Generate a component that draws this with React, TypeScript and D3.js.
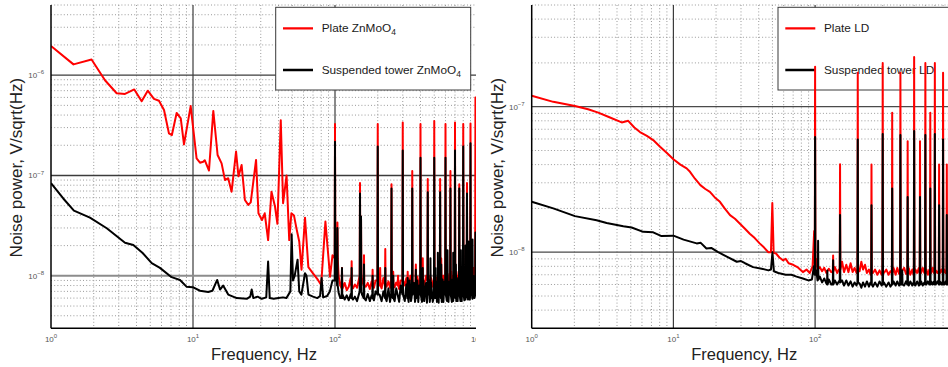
import React from 'react';
import * as d3 from 'd3';

type P = [number, number];
type L = [number, number, number]; // [frequency, peak value, base value]

// ---------- Left panel: ZnMoO4 ----------
const plateZnLow: P[] = [
  [1.0, 1.95e-6], [1.44, 1.28e-6], [1.93, 1.43e-6], [2.4, 8.9e-7], [2.9, 6.6e-7], [3.32, 6.5e-7],
  [3.86, 7.2e-7], [4.35, 5.5e-7], [4.8, 7.0e-7], [5.31, 5.8e-7], [5.76, 5.55e-7], [6.25, 4.5e-7],
  [6.77, 2.63e-7], [7.1, 2.53e-7], [7.67, 4.2e-7], [8.2, 3.7e-7], [8.64, 2.04e-7], [9.63, 4.92e-7],
  [10.6, 1.48e-7], [11.2, 1.34e-7], [11.8, 1.37e-7], [12.1, 1.42e-7], [12.96, 1.12e-7], [13.9, 4.4e-7],
  [14.9, 1.6e-7], [15.9, 1.32e-7], [16.8, 9.0e-8], [17.7, 9.4e-8], [18.7, 6.9e-8], [20.1, 1.73e-7],
  [20.9, 9.8e-8], [22.0, 1.27e-7], [23.2, 5.7e-8], [24.5, 5.1e-8], [25.5, 5.4e-8], [27.8, 1.43e-7],
  [28.9, 4.2e-8], [30.6, 3.6e-8], [32.0, 4.2e-8], [33.8, 2.27e-8], [35.7, 6.9e-8], [37.8, 4.9e-8],
  [39.3, 3.3e-8], [41.5, 3.56e-7], [43.1, 5.3e-8], [45.6, 1.0e-7], [47.6, 2.27e-8], [49.3, 4.2e-8],
  [51.4, 4.0e-8], [53.7, 2.9e-8], [56.0, 2.2e-8], [58.1, 1.15e-8], [61.5, 3.8e-8], [64.9, 1.22e-8],
  [70.0, 1.06e-8], [75.9, 9.1e-9], [79.9, 8.1e-9], [85.6, 3.47e-8], [92.3, 9.8e-9], [96.0, 1.6e-8],
  [103, 1.6e-8], [106, 1.0e-8], [109, 8.0e-9], [113, 7.5e-9], [117, 8.5e-9], [121, 7.2e-9], [125, 7.8e-9],
  [129, 9.5e-9], [134, 7.5e-9], [138, 8.2e-9], [143, 7.6e-9], [155, 9.0e-9], [165, 7.8e-9], [170, 8.5e-9],
  [176, 7.4e-9], [181, 8.8e-9], [188, 7.6e-9], [193, 9.0e-9], [206, 8.4e-9], [213, 7.5e-9], [219, 9.5e-9],
  [231, 7.8e-9], [238, 8.8e-9], [244, 7.6e-9], [256, 9.6e-9], [263, 7.7e-9], [270, 8.6e-9], [283, 7.4e-9],
  [290, 9.0e-9], [310, 8.0e-9], [318, 9.5e-9], [330, 7.6e-9], [340, 1.0e-8], [360, 8.0e-9], [380, 9.8e-9],
  [392, 7.8e-9], [410, 9.0e-9], [425, 8.0e-9], [438, 1.0e-8], [460, 8.2e-9], [475, 9.5e-9], [488, 7.8e-9],
  [515, 9.6e-9], [530, 8.0e-9], [542, 1.05e-8], [565, 8.2e-9], [580, 1.0e-8], [590, 8.0e-9], [615, 9.6e-9],
  [630, 8.4e-9], [640, 1.05e-8], [665, 8.2e-9], [680, 1.0e-8], [690, 8.5e-9], [715, 1.0e-8], [730, 8.6e-9],
  [742, 1.1e-8], [765, 8.4e-9], [780, 1.0e-8], [790, 8.6e-9], [815, 1.05e-8], [830, 8.8e-9], [842, 1.1e-8],
  [865, 9.0e-9], [875, 1.1e-8], [890, 9.0e-9], [915, 1.1e-8], [930, 9.0e-9], [942, 1.2e-8], [965, 1.2e-8],
];
const plateZnLines: L[] = [
  [100, 3.25e-7, 1.5e-8], [104, 3.4e-8, 1.5e-8], [112, 1.2e-8, 7.5e-9], [131, 1.4e-8, 8e-9],
  [150, 8.4e-8, 1.0e-8], [152.5, 3.9e-8, 1.0e-8], [160, 1.6e-8, 8e-9], [184, 1.15e-8, 8e-9],
  [200, 3.25e-7, 9e-9], [208, 1.2e-8, 8e-9], [226, 1.85e-8, 8e-9], [250, 8.2e-8, 9e-9],
  [257, 1.1e-8, 8e-9], [278, 1.0e-8, 8e-9], [300, 3.38e-7, 9e-9], [325, 1.1e-8, 8e-9],
  [350, 1.11e-7, 9e-9], [371, 1.3e-8, 8.5e-9], [400, 3.25e-7, 9e-9], [415, 1.5e-8, 8.5e-9],
  [450, 9.2e-8, 9e-9], [468, 1.0e-8, 8.5e-9], [500, 3.5e-7, 9e-9], [550, 9.2e-8, 9e-9],
  [560, 1.5e-8, 9e-9], [600, 3.25e-7, 9e-9], [610, 1.3e-8, 9e-9], [650, 1.11e-7, 9e-9],
  [660, 1.1e-8, 9e-9], [700, 3.38e-7, 9e-9], [750, 8.2e-8, 9e-9], [755, 1.5e-8, 9e-9],
  [800, 3.25e-7, 9e-9], [850, 8.4e-8, 9e-9], [880, 1.5e-8, 9e-9], [900, 3.3e-7, 9e-9],
  [975, 6.0e-7, 1.0e-8],
];

const towerZnLow: P[] = [
  [1.0, 8.4e-8], [1.22, 5.9e-8], [1.45, 4.47e-8], [1.88, 3.8e-8], [2.47, 2.98e-8], [3.32, 2.14e-8],
  [3.8, 2.03e-8], [4.4, 1.7e-8], [5.12, 1.34e-8], [5.85, 1.2e-8], [7.07, 9.7e-9], [8.1, 9.1e-9],
  [9.0, 7.8e-9], [9.96, 7.7e-9], [11.2, 7.1e-9], [12.8, 6.9e-9], [13.7, 7.1e-9], [14.8, 9.1e-9],
  [15.5, 7.3e-9], [16.3, 8.0e-9], [17.7, 6.5e-9], [20.3, 6.0e-9], [23.9, 5.9e-9], [25.3, 6.2e-9],
  [25.9, 7.3e-9], [26.6, 6.0e-9], [28.5, 6.2e-9], [30.5, 5.9e-9], [32.8, 6.1e-9], [33.8, 1.39e-8],
  [34.7, 6.0e-9], [37.0, 5.9e-9], [40.0, 6.0e-9], [43.0, 6.1e-9], [45.5, 6.0e-9], [48.5, 7.0e-9],
  [49.5, 2.6e-8], [50.6, 9.0e-9], [52.0, 1.0e-8], [54.5, 1.45e-8], [56.0, 7.0e-9], [58.0, 6.5e-9],
  [61.5, 1.06e-8], [63.0, 1.0e-8], [65.0, 6.5e-9], [70.0, 6.2e-9], [75.0, 6.0e-9], [78.5, 6.3e-9],
  [80.5, 9.5e-9], [82.5, 6.1e-9], [88.0, 6.3e-9], [92.0, 7.0e-9], [96.0, 9.0e-9],
  [103, 9.0e-9], [106, 6.8e-9], [109, 6.0e-9], [113, 6.5e-9], [117, 5.8e-9], [121, 6.4e-9], [125, 5.7e-9],
  [129, 6.6e-9], [134, 5.8e-9], [138, 6.2e-9], [143, 5.6e-9], [155, 6.5e-9], [165, 5.7e-9], [170, 6.6e-9],
  [176, 5.6e-9], [181, 6.4e-9], [188, 5.7e-9], [193, 7.0e-9], [206, 6.5e-9], [213, 5.6e-9], [219, 7.0e-9],
  [231, 5.6e-9], [238, 7.5e-9], [244, 5.5e-9], [256, 7.8e-9], [263, 5.6e-9], [270, 7.5e-9], [283, 5.5e-9],
  [290, 8.0e-9], [310, 5.6e-9], [318, 8.2e-9], [330, 5.5e-9], [336, 9.0e-9], [343, 5.6e-9], [360, 8.5e-9],
  [366, 5.5e-9], [380, 9.0e-9], [386, 5.5e-9], [392, 8.0e-9], [410, 5.5e-9], [420, 9.0e-9], [425, 5.6e-9],
  [438, 8.5e-9], [444, 5.4e-9], [460, 9.0e-9], [465, 5.5e-9], [475, 8.6e-9], [488, 5.5e-9], [515, 8.8e-9],
  [522, 5.5e-9], [530, 9.0e-9], [537, 5.4e-9], [542, 8.6e-9], [565, 5.5e-9], [572, 9.2e-9], [580, 5.5e-9],
  [590, 8.8e-9], [615, 5.6e-9], [622, 9.0e-9], [630, 5.5e-9], [640, 8.8e-9], [665, 5.5e-9], [672, 9.2e-9],
  [680, 5.6e-9], [690, 9.0e-9], [715, 5.6e-9], [722, 9.5e-9], [730, 5.6e-9], [742, 9.0e-9], [765, 5.6e-9],
  [772, 9.5e-9], [780, 5.6e-9], [790, 9.0e-9], [815, 5.7e-9], [822, 1.0e-8], [830, 5.8e-9], [842, 9.5e-9],
  [865, 5.8e-9], [872, 1.0e-8], [890, 5.8e-9], [915, 1.0e-8], [930, 5.9e-9], [942, 1.0e-8], [960, 6.0e-9],
  [990, 1.0e-8], [1000, 6.0e-9],
];
const towerZnLines: L[] = [
  [100, 2.17e-7, 9e-9], [104, 3.0e-8, 8e-9], [112, 1.2e-8, 6e-9], [131, 1.2e-8, 6e-9],
  [150, 6.6e-8, 7e-9], [152.5, 3.9e-8, 7e-9], [160, 1.3e-8, 6e-9], [184, 1.0e-8, 6e-9],
  [200, 1.94e-7, 6.5e-9], [226, 1.2e-8, 6e-9], [250, 7.4e-8, 6.5e-9], [257, 1.0e-8, 6e-9],
  [300, 1.77e-7, 6.5e-9], [325, 9.5e-9, 6e-9], [350, 7.4e-8, 6.5e-9], [371, 1.15e-8, 6e-9],
  [400, 1.5e-7, 6.5e-9], [415, 1.2e-8, 6e-9], [450, 6.8e-8, 6.5e-9], [470, 1.5e-8, 6e-9],
  [500, 1.5e-7, 6.5e-9], [510, 1.2e-8, 6e-9], [530, 1.7e-8, 6e-9], [550, 6.8e-8, 6.5e-9],
  [560, 1.3e-8, 6e-9], [600, 1.5e-7, 6.5e-9], [620, 1.8e-8, 6e-9], [650, 7.4e-8, 6.5e-9],
  [680, 1.7e-8, 6e-9], [700, 1.77e-7, 6.5e-9], [710, 1.3e-8, 6e-9], [750, 7.4e-8, 6.5e-9],
  [770, 1.8e-8, 6e-9], [800, 1.94e-7, 6.5e-9], [830, 2.0e-8, 6e-9], [850, 6.6e-8, 6.5e-9],
  [870, 2.2e-8, 6e-9], [900, 2.1e-7, 6.5e-9], [930, 2.3e-8, 6e-9], [975, 2.7e-8, 6.5e-9],
];

// ---------- Right panel: LD ----------
const plateLDLow: P[] = [
  [1.0, 1.19e-7], [1.42, 1.08e-7], [2.02, 1.01e-7], [2.5, 9.6e-8], [2.95, 9.1e-8], [3.5, 8.5e-8],
  [4.32, 7.8e-8], [4.8, 8.0e-8], [5.3, 7.2e-8], [5.81, 6.7e-8], [6.5, 6.3e-8], [7.2, 5.9e-8],
  [8.05, 5.3e-8], [9.0, 4.8e-8], [10.0, 4.35e-8], [11.2, 4.0e-8], [12.4, 3.77e-8], [13.1, 3.57e-8],
  [14.2, 3.2e-8], [15.5, 2.89e-8], [16.8, 2.72e-8], [18.1, 2.6e-8], [19.6, 2.38e-8], [21.3, 2.22e-8],
  [23.0, 2.0e-8], [25.1, 1.8e-8], [27.2, 1.7e-8], [29.5, 1.57e-8], [32.0, 1.45e-8], [34.6, 1.34e-8],
  [37.5, 1.25e-8], [40.6, 1.15e-8], [43.5, 1.08e-8], [46.8, 1.0e-8], [48.8, 1.0e-8], [49.9, 2.18e-8],
  [51.0, 9.9e-9], [53.0, 9.8e-9], [56.0, 9.2e-9], [59.3, 8.8e-9], [62.0, 9.0e-9], [65.0, 8.4e-9],
  [70.0, 8.2e-9], [75.0, 7.9e-9], [82.0, 7.3e-9], [87.0, 7.6e-9], [91.7, 7.2e-9], [96.0, 8.0e-9],
  [98.5, 1.4e-8],
  [102, 9.0e-9], [104, 7.6e-9], [108, 7.9e-9], [112, 7.4e-9], [116, 7.8e-9], [120, 7.2e-9], [125, 7.7e-9],
  [130, 7.3e-9], [138, 7.9e-9], [143, 7.2e-9], [147, 7.6e-9], [155, 8.6e-9], [160, 7.3e-9], [166, 8.2e-9],
  [172, 7.3e-9], [178, 8.4e-9], [184, 7.3e-9], [190, 7.8e-9], [196, 7.2e-9], [206, 7.4e-9], [212, 8.6e-9],
  [218, 7.6e-9], [225, 8.2e-9], [232, 7.2e-9], [240, 7.6e-9], [246, 7.0e-9], [256, 7.2e-9], [265, 7.6e-9],
  [275, 7.0e-9], [285, 7.5e-9], [295, 7.0e-9], [306, 7.2e-9], [318, 7.6e-9], [330, 7.0e-9], [340, 7.4e-9],
  [358, 7.8e-9], [370, 7.0e-9], [380, 7.8e-9], [392, 7.1e-9], [410, 7.4e-9], [425, 7.8e-9], [438, 7.1e-9],
  [458, 7.8e-9], [470, 7.0e-9], [485, 7.6e-9], [495, 7.0e-9], [510, 7.6e-9], [525, 7.2e-9], [540, 7.8e-9],
  [560, 7.2e-9], [575, 7.8e-9], [590, 7.2e-9], [610, 7.6e-9], [625, 7.0e-9], [640, 7.6e-9], [660, 7.2e-9],
  [675, 7.8e-9], [690, 7.2e-9], [710, 7.5e-9], [730, 7.2e-9], [745, 7.5e-9], [760, 7.2e-9], [780, 7.6e-9],
  [795, 7.2e-9], [815, 7.6e-9], [835, 7.2e-9], [860, 7.5e-9], [880, 7.2e-9], [920, 7.4e-9], [960, 7.2e-9],
  [1000, 7.4e-9],
];
const plateLDLines: L[] = [
  [100, 1.88e-7, 8e-9], [134, 9.5e-9, 7.4e-9], [150, 4.03e-8, 7.6e-9], [200, 1.71e-7, 7.4e-9],
  [250, 4.0e-8, 7.2e-9], [300, 2.0e-7, 7.2e-9], [350, 9.1e-8, 7.2e-9], [400, 1.71e-7, 7.2e-9],
  [450, 5.8e-8, 7.2e-9], [500, 2.2e-7, 7.2e-9], [550, 5.8e-8, 7.2e-9], [600, 2.0e-7, 7.2e-9],
  [650, 9.1e-8, 7.2e-9], [700, 2.0e-7, 7.2e-9], [750, 4.0e-8, 7.2e-9], [800, 1.71e-7, 7.2e-9],
  [850, 4.0e-8, 7.2e-9], [900, 1.7e-7, 7.2e-9],
];

const towerLDLow: P[] = [
  [1.0, 2.22e-8], [1.42, 2.0e-8], [2.02, 1.77e-8], [2.87, 1.66e-8], [3.38, 1.59e-8], [4.43, 1.51e-8],
  [5.07, 1.48e-8], [6.13, 1.38e-8], [7.2, 1.37e-8], [8.24, 1.29e-8], [10.0, 1.3e-8], [11.8, 1.22e-8],
  [14.6, 1.15e-8], [15.6, 1.16e-8], [17.1, 1.06e-8], [18.5, 1.07e-8], [20.7, 1.0e-8], [24.0, 9.3e-9],
  [28.0, 8.6e-9], [30.0, 8.7e-9], [32.0, 8.4e-9], [36.5, 7.9e-9], [42.0, 7.7e-9], [46.8, 7.5e-9],
  [48.8, 7.6e-9], [50.0, 1.0e-8], [51.2, 7.4e-9], [55.0, 7.2e-9], [62.0, 7.0e-9], [68.0, 7.0e-9],
  [74.0, 6.8e-9], [82.0, 6.6e-9], [89.6, 6.4e-9], [95.0, 6.5e-9], [98.0, 8.0e-9],
  [102, 7.5e-9], [104, 6.4e-9], [108, 6.8e-9], [112, 6.2e-9], [116, 6.6e-9], [120, 6.1e-9], [125, 6.5e-9],
  [130, 6.0e-9], [138, 6.4e-9], [143, 6.0e-9], [147, 6.3e-9], [155, 6.4e-9], [160, 5.9e-9], [166, 6.4e-9],
  [172, 5.9e-9], [178, 6.3e-9], [184, 5.8e-9], [190, 6.2e-9], [196, 5.9e-9], [206, 6.1e-9], [212, 5.7e-9],
  [218, 6.2e-9], [225, 5.8e-9], [232, 6.3e-9], [240, 5.8e-9], [246, 6.2e-9], [256, 5.8e-9], [265, 6.2e-9],
  [275, 5.8e-9], [285, 6.3e-9], [295, 5.9e-9], [306, 6.2e-9], [318, 5.8e-9], [330, 6.2e-9], [340, 5.8e-9],
  [358, 6.3e-9], [370, 5.9e-9], [380, 6.3e-9], [392, 5.9e-9], [410, 6.2e-9], [425, 5.9e-9], [438, 6.3e-9],
  [458, 5.9e-9], [470, 6.3e-9], [485, 5.9e-9], [495, 6.2e-9], [510, 5.9e-9], [525, 6.3e-9], [540, 5.9e-9],
  [560, 6.3e-9], [575, 5.9e-9], [590, 6.2e-9], [610, 6.0e-9], [625, 6.3e-9], [640, 6.0e-9], [660, 6.3e-9],
  [675, 6.0e-9], [690, 6.3e-9], [710, 6.0e-9], [730, 6.3e-9], [745, 6.0e-9], [760, 6.3e-9], [780, 6.0e-9],
  [795, 6.3e-9], [815, 6.0e-9], [835, 6.3e-9], [860, 6.0e-9], [880, 6.3e-9], [920, 6.1e-9], [960, 6.3e-9],
  [1000, 6.1e-9],
];
const towerLDLines: L[] = [
  [100, 6.2e-8, 7e-9], [105, 1.2e-8, 6.5e-9], [122, 7.5e-9, 6e-9], [134, 8.8e-9, 6e-9],
  [150, 1.8e-8, 6.2e-9], [200, 5.96e-8, 6.2e-9], [250, 2.1e-8, 6e-9], [300, 6.5e-8, 6e-9],
  [350, 2.74e-8, 6e-9], [400, 6.4e-8, 6e-9], [412, 7.5e-9, 6e-9], [450, 2.4e-8, 6e-9],
  [500, 6.8e-8, 6e-9], [550, 2.4e-8, 6e-9], [600, 6.4e-8, 6e-9], [650, 2.74e-8, 6e-9],
  [700, 6.5e-8, 6e-9], [750, 2.1e-8, 6e-9], [800, 5.96e-8, 6e-9], [850, 1.8e-8, 6e-9],
  [900, 6.0e-8, 6e-9],
];

const leftXTicks = [1, 10, 100, 1000];
const leftXExps = ['0', '1', '2', '3'];
const rightXTicks = [1, 10, 100];
const rightXExps = ['0', '1', '2'];

function build(low: P[], lines: L[]): P[] {
  const pts: P[] = low.slice();
  for (const [f, peak, base] of lines) {
    pts.push([f * 0.995, base], [f, peak], [f * 1.005, base]);
  }
  return pts.sort((a, b) => a[0] - b[0]);
}

const FONT = '"Liberation Sans", Arial, Helvetica, sans-serif';
const TOP = 5;
const BOTTOM = 328.3;

interface PanelCfg {
  id: string;
  x0: number;
  x1: number;
  clipRight: number;
  yDomain: [number, number];
  yMajor: { v: number; exp: string; color: string; width: number }[];
  xTicks: number[];
  xExps: string[];
  legendX: number;
  names: [string, string];
  sub: boolean;
  red: P[];
  black: P[];
}

function Panel({ cfg }: { cfg: PanelCfg }) {
  const x = d3.scaleLog().domain([1, 1000]).range([cfg.x0, cfg.x1]);
  const y = d3.scaleLog().domain(cfg.yDomain).range([BOTTOM, TOP]);
  const line = d3.line<P>().x((d) => x(d[0])).y((d) => y(d[1]));
  const plotW = cfg.clipRight - cfg.x0;

  const minorX: number[] = [];
  for (const dec of [1, 10, 100]) for (let k = 2; k <= 9; k++) minorX.push(k * dec);
  const minorY: number[] = [];
  for (const dec of [1e-9, 1e-8, 1e-7, 1e-6]) {
    for (let k = 2; k <= 9; k++) {
      const v = k * dec;
      if (v > cfg.yDomain[0] * 1.001 && v <= cfg.yDomain[1] * 1.001) minorY.push(v);
    }
  }
  const lx = cfg.legendX;
  const plotClip = `plot-${cfg.id}`;
  const panelClip = `panel-${cfg.id}`;
  const midX = (cfg.x0 + cfg.x1) / 2;

  return (
    <g clipPath={`url(#${panelClip})`}>
      <defs>
        <clipPath id={plotClip}>
          <rect x={cfg.x0} y={TOP - 1} width={plotW} height={BOTTOM - TOP + 1} />
        </clipPath>
        <clipPath id={panelClip}>
          <rect x={cfg.x0 - 60} y={0} width={cfg.clipRight - cfg.x0 + 60} height={367} />
        </clipPath>
      </defs>
      <g clipPath={`url(#${plotClip})`}>
        {minorX.map((f) => (
          <line key={'mx' + f} x1={x(f)} x2={x(f)} y1={TOP} y2={BOTTOM} stroke="#9a9a9a" strokeWidth={1} strokeDasharray="1,2.2" />
        ))}
        {minorY.map((v) => (
          <line key={'my' + v} x1={cfg.x0} x2={cfg.clipRight} y1={y(v)} y2={y(v)} stroke="#9a9a9a" strokeWidth={1} strokeDasharray="1,2.2" />
        ))}
        {[10, 100].map((f) => (
          <line key={'Mx' + f} x1={x(f)} x2={x(f)} y1={TOP} y2={BOTTOM} stroke="#3c3c3c" strokeWidth={1.2} />
        ))}
        {cfg.yMajor.map((m) => (
          <line key={'My' + m.v} x1={cfg.x0} x2={cfg.clipRight} y1={y(m.v)} y2={y(m.v)} stroke={m.color} strokeWidth={m.width} />
        ))}
        {/* legend */}
        <rect x={lx} y={7.3} width={195} height={82.7} fill="#ffffff" stroke="#3a3a3a" strokeWidth={1} />
        <line x1={lx + 7.3} x2={lx + 37.3} y1={28.3} y2={28.3} stroke="#ff0000" strokeWidth={2.3} />
        <line x1={lx + 7.3} x2={lx + 37.3} y1={70} y2={70} stroke="#000000" strokeWidth={2.3} />
        <text x={lx + 46} y={31.5} fontFamily={FONT} fontSize={11.8} fill="#1a1a1a">
          {cfg.names[0]}
          {cfg.sub && (
            <tspan fontSize={8.5} dy={3.2}>4</tspan>
          )}
        </text>
        <text x={lx + 46} y={74} fontFamily={FONT} fontSize={11.8} fill="#1a1a1a">
          {cfg.names[1]}
          {cfg.sub && (
            <tspan fontSize={8.5} dy={3.2}>4</tspan>
          )}
        </text>
        <path d={line(cfg.red) || ''} fill="none" stroke="#ff0000" strokeWidth={2} strokeLinejoin="round" />
        <path d={line(cfg.black) || ''} fill="none" stroke="#000000" strokeWidth={2} strokeLinejoin="round" />
      </g>
      {/* axes */}
      <line x1={cfg.x0} x2={cfg.x0} y1={TOP} y2={BOTTOM} stroke="#000" strokeWidth={1.5} />
      <line x1={cfg.x0} x2={cfg.clipRight} y1={BOTTOM} y2={BOTTOM} stroke="#000" strokeWidth={1.5} />
      {cfg.xTicks.map((f, i) => (
        <text key={'xt' + f} x={x(f)} y={341.5} textAnchor="middle" fontFamily={FONT} fontSize={8} fill="#555">
          10<tspan fontSize={6} dy={-3.8}>{cfg.xExps[i]}</tspan>
        </text>
      ))}
      {cfg.yMajor.map((m) => (
        <text key={'yt' + m.v} x={cfg.x0 - 7} y={y(m.v) + 3} textAnchor="end" fontFamily={FONT} fontSize={8} fill="#555">
          10<tspan fontSize={6} dy={-3.8}>{m.exp}</tspan>
        </text>
      ))}
      <text
        transform={`translate(${cfg.x0 - 29},${(TOP + BOTTOM) / 2 + 1}) rotate(-90)`}
        textAnchor="middle"
        fontFamily={FONT}
        fontSize={17}
        fill="#222"
      >
        Noise power, V/sqrt(Hz)
      </text>
      <text x={midX} y={360} textAnchor="middle" fontFamily={FONT} fontSize={16.5} fill="#222">
        Frequency, Hz
      </text>
    </g>
  );
}

export default function App() {
  const left: PanelCfg = {
    id: 'zn',
    x0: 51,
    x1: 477,
    clipRight: 476,
    yDomain: [3e-9, 5e-6],
    yMajor: [
      { v: 1e-8, exp: '−8', color: '#8c8c8c', width: 2 },
      { v: 1e-7, exp: '−7', color: '#3c3c3c', width: 1.3 },
      { v: 1e-6, exp: '−6', color: '#3c3c3c', width: 1.3 },
    ],
    xTicks: leftXTicks,
    xExps: leftXExps,
    legendX: 275.7,
    names: ['Plate ZnMoO', 'Suspended tower ZnMoO'],
    sub: true,
    red: build(plateZnLow, plateZnLines),
    black: build(towerZnLow, towerZnLines),
  };
  const right: PanelCfg = {
    id: 'ld',
    x0: 531.7,
    x1: 956.8,
    clipRight: 948,
    yDomain: [3e-9, 5e-7],
    yMajor: [
      { v: 1e-8, exp: '−8', color: '#4a4a4a', width: 1.3 },
      { v: 1e-7, exp: '−7', color: '#4a4a4a', width: 1.3 },
    ],
    xTicks: rightXTicks,
    xExps: rightXExps,
    legendX: 778,
    names: ['Plate LD', 'Suspended tower LD'],
    sub: false,
    red: build(plateLDLow, plateLDLines),
    black: build(towerLDLow, towerLDLines),
  };
  return (
    <svg
      width={948}
      height={367}
      viewBox="0 0 948 367"
      style={{ position: 'absolute', left: 0, top: 0, background: '#fff' }}
    >
      <rect x={0} y={0} width={948} height={367} fill="#fff" />
      <Panel cfg={left} />
      <Panel cfg={right} />
    </svg>
  );
}
